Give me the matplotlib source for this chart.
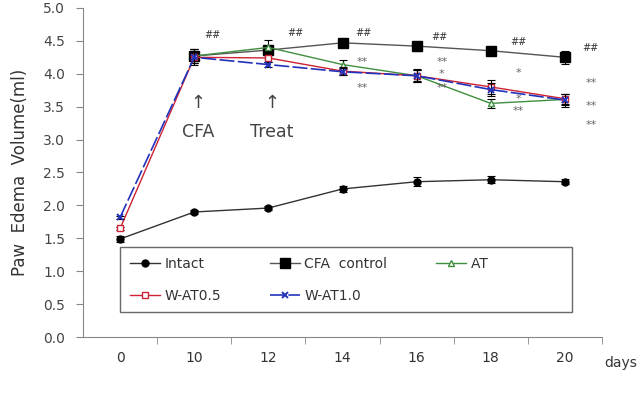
import matplotlib
matplotlib.use("Agg")
import matplotlib.pyplot as plt
from matplotlib.lines import Line2D
import numpy as np

# categories on the x axis (days)
days = ["0", "10", "12", "14", "16", "18", "20"]

intact = [1.49, 1.90, 1.96, 2.25, 2.36, 2.39, 2.36]
intact_err = [0.04, 0.03, 0.03, 0.04, 0.07, 0.05, 0.04]
cfa = [np.nan, 4.27, 4.36, 4.47, 4.42, 4.35, 4.25]
cfa_err = [0, 0.10, 0.05, 0.05, 0.07, 0.06, 0.10]
at = [np.nan, 4.27, 4.40, 4.14, 3.97, 3.55, 3.61]
at_err = [0, 0.10, 0.12, 0.07, 0.08, 0.07, 0.08]
wat05 = [1.65, 4.25, 4.24, 4.04, 3.97, 3.80, 3.62]
wat05_err = [0.02, 0.08, 0.06, 0.06, 0.09, 0.10, 0.08]
wat10 = [1.82, 4.25, 4.14, 4.03, 3.97, 3.76, 3.60]
wat10_err = [0.02, 0.12, 0.04, 0.05, 0.10, 0.10, 0.10]

x = np.arange(len(days))

fig = plt.figure(figsize=(6.39, 3.97), dpi=100)
ax = fig.add_axes([0.130, 0.151, 0.812, 0.829])

ebkw = dict(ecolor="black", elinewidth=0.8, capsize=3, capthick=0.8)
styles = [
    (intact, intact_err, dict(color="#333333", lw=1.0, marker="o", ms=5, mfc="black", mec="black"), "Intact"),
    (cfa, cfa_err, dict(color="#555555", lw=1.0, marker="s", ms=6.5, mfc="black", mec="black"), "CFA  control"),
    (at, at_err, dict(color="#3f8f3f", lw=1.0, marker="^", ms=5, mfc="white", mec="#3f8f3f"), "AT"),
    (wat05, wat05_err, dict(color="#cc2233", lw=1.0, marker="s", ms=4.5, mfc="white", mec="#cc2233"), "W-AT0.5"),
    (wat10, wat10_err, dict(color="#2233bb", lw=1.2, dashes=(9, 2), marker="x", ms=4.5, mew=1.4, mec="#2233bb"), "W-AT1.0"),
]
handles = {}
for vals, err, kw, lab in styles:
    ax.errorbar(x, vals, yerr=err, fmt="none", **ebkw)
    ax.plot(x, vals, **kw)
    handles[lab] = Line2D([], [], **kw)

ax.set_xlim(-0.5, 6.5)
ax.set_ylim(0, 5.0)
ax.set_yticks(np.arange(0, 5.01, 0.5))
ax.set_yticklabels([f"{v:.1f}" for v in np.arange(0, 5.01, 0.5)])
ax.set_xticks(x)
ax.set_xticklabels(days)
ax.set_xticks(np.arange(0.5, 7, 1), minor=True)
ax.tick_params(axis="x", which="major", length=0, pad=10, labelsize=10, labelcolor="#333333")
ax.tick_params(axis="x", which="minor", length=5, color="#888888", direction="out")
ax.tick_params(axis="y", length=5, color="#888888", labelsize=10, labelcolor="#444444", pad=8)
for s in ["top", "right"]:
    ax.spines[s].set_visible(False)
for s in ["left", "bottom"]:
    ax.spines[s].set_color("#888888")

ax.set_ylabel("Paw  Edema  Volume(ml)", fontsize=12, color="#333333", labelpad=10)
fig.text(0.972, 0.085, "days", fontsize=10, color="#333333", ha="center", va="center")

# arrows and labels
for xi, lab in [(1, "CFA"), (2, "Treat")]:
    ax.text(xi + 0.05, 3.55, "↑", ha="center", va="center", fontsize=13, color="#444444")
    ax.text(xi + 0.05, 3.12, lab, ha="center", va="center", fontsize=12.5, color="#444444")

# significance marks
sharp = [(1.25, 4.59), (2.36, 4.62), (3.28, 4.62), (4.31, 4.56), (5.37, 4.48), (6.35, 4.39)]
for sx, sy in sharp:
    ax.text(sx, sy, "##", ha="center", va="center", fontsize=7, color="#333333")
stars = [(3.26, 4.18, "**"), (3.26, 3.79, "**"),
         (4.34, 4.18, "**"), (4.34, 3.99, "*"), (4.34, 3.79, "**"),
         (5.37, 4.01, "*"), (5.37, 3.62, "*"), (5.37, 3.43, "**"),
         (6.35, 3.86, "**"), (6.35, 3.51, "**"), (6.35, 3.22, "**")]
for sx, sy, t in stars:
    ax.text(sx, sy, t, ha="center", va="center", fontsize=8, color="#666666")

order = ["Intact", "W-AT0.5", "CFA  control", "W-AT1.0", "AT"]
shown = ["Intact", "W-AT0.5", "CFA  control", "W-AT1.0", "AT" + " " * 17]
leg = ax.legend([handles[k] for k in order], shown, ncol=3, loc="upper left",
                bbox_to_anchor=(0.071, 0.274), fontsize=10, frameon=True,
                fancybox=False, borderaxespad=0, borderpad=0.7,
                handlelength=2.2, handletextpad=0.3, labelspacing=1.3,
                columnspacing=3.5)
leg.get_frame().set_edgecolor("#444444")
leg.get_frame().set_linewidth(1.0)
for t in leg.get_texts():
    t.set_color("#333333")

fig.savefig("out.png", dpi=100)
